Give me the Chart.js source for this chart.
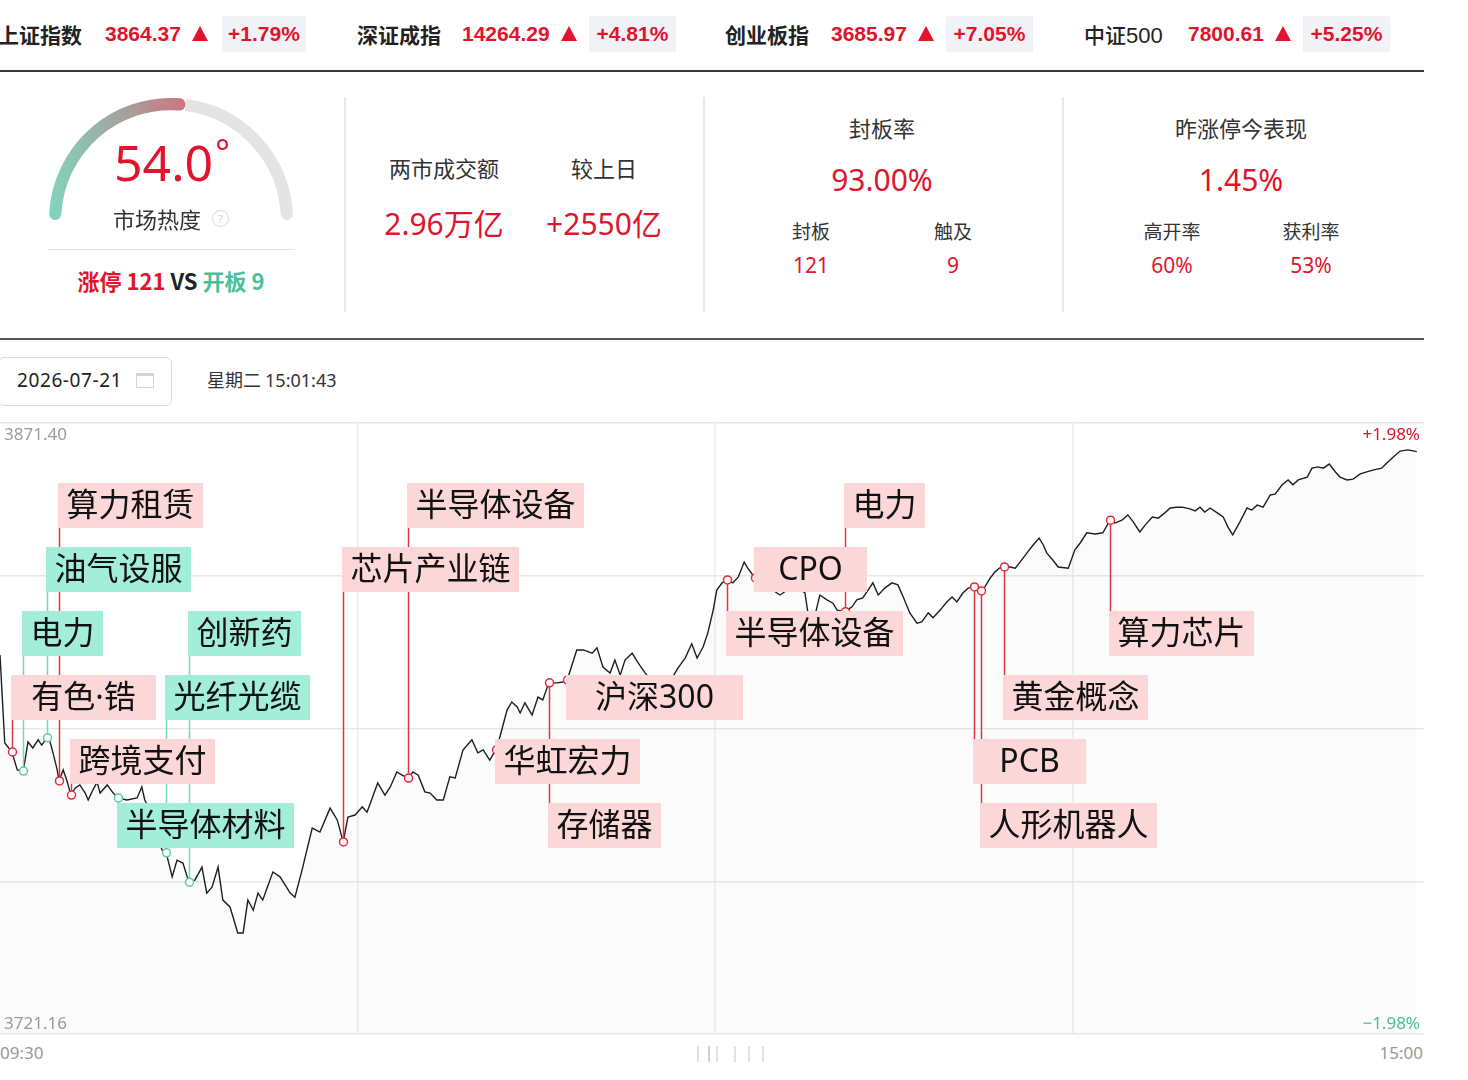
<!DOCTYPE html>
<html lang="zh-CN">
<head>
<meta charset="utf-8">
<title>市场热度 分时</title>
<script src="https://cdn.jsdelivr.net/npm/chart.js@4.4.1/dist/chart.umd.min.js"></script>
<style>
  html, body { margin: 0; padding: 0; background: #fff; }
  body { width: 1468px; height: 1080px; position: relative; overflow: hidden;
         font-family: "Noto Sans", "Noto Sans CJK SC", sans-serif; color: #222; }
  .abs { position: absolute; white-space: nowrap; }
  .idx { top: 21px; font: bold 21px/26px "Noto Sans CJK SC", sans-serif; color: #222; }
  .num { top: 21px; font: bold 21px/26px "Liberation Sans", Arial, sans-serif; color: #e0142d; }
  .tri { top: 26px; width: 0; height: 0; border-left: 8px solid transparent;
         border-right: 8px solid transparent; border-bottom: 15px solid #e0142d; }
  .badge { top: 16px; height: 36px; line-height: 36px; background: #f1f2f6; text-align: center;
           font: bold 21px/36px "Liberation Sans", Arial, sans-serif; color: #e0142d; }
  .hr { background: #3a3a3a; height: 2px; left: 0; width: 1424px; }
  .vsep { top: 97px; width: 1.5px; height: 215px; background: #e8e8e8; }
  .cell { text-align: center; transform: translateX(-50%); }
  .lab { font-size: 22px; color: #333; font-family: "Noto Sans CJK SC", sans-serif; }
  .lab-s { font-size: 19px; color: #333; font-family: "Noto Sans CJK SC", sans-serif; }
  .red { color: #e0142d; }
  .teal { color: #4cbf9a; }
  .grey { color: #999; }
  .handle { top: 1046px; width: 1.5px; height: 16px; background: #e2e2e2; }
</style>
</head>
<body>

<!-- index strip -->
<div class="abs idx" style="left:-2px">上证指数</div>
<div class="abs num" style="left:105px">3864.37</div>
<div class="abs tri" style="left:192px"></div>
<div class="abs badge" style="left:222px;width:84px">+1.79%</div>

<div class="abs idx" style="left:357px">深证成指</div>
<div class="abs num" style="left:462px">14264.29</div>
<div class="abs tri" style="left:561px"></div>
<div class="abs badge" style="left:589px;width:87px">+4.81%</div>

<div class="abs idx" style="left:725px">创业板指</div>
<div class="abs num" style="left:831px">3685.97</div>
<div class="abs tri" style="left:918px"></div>
<div class="abs badge" style="left:946px;width:87px">+7.05%</div>

<div class="abs idx" style="left:1084px;font-weight:500">中证<span style="font-family:'Liberation Sans',Arial,sans-serif;font-weight:normal;font-size:22px">500</span></div>
<div class="abs num" style="left:1188px">7800.61</div>
<div class="abs tri" style="left:1275px"></div>
<div class="abs badge" style="left:1303px;width:87px">+5.25%</div>

<div class="abs hr" style="top:70px"></div>

<!-- gauge -->
<canvas id="gauge" class="abs" width="244" height="122" style="left:49px;top:98px"></canvas>
<div class="abs red" style="left:114px;top:132px;font:400 50px/60px 'Noto Sans',sans-serif">54.0<span style="font-size:34px;position:relative;top:-16px;margin-left:2px">°</span></div>
<div class="abs" style="left:113px;top:204px;font:400 22px/28px 'Noto Sans CJK SC',sans-serif;color:#333">市场热度</div>
<div class="abs" style="left:212px;top:210px;width:15px;height:15px;border:1.5px solid #d8d8d8;border-radius:50%;font:11px/15px 'Noto Sans',sans-serif;color:#cfcfcf;text-align:center">?</div>
<div class="abs" style="left:48px;top:249px;width:247px;height:1px;background:#e4e4e4"></div>
<div class="abs cell" style="left:171px;top:265px;font:bold 22px/30px 'Noto Sans CJK SC',sans-serif">
  <span class="red">涨停 121</span> <span style="color:#222">VS</span> <span class="teal">开板 9</span>
</div>

<div class="abs vsep" style="left:344px"></div>
<div class="abs vsep" style="left:703px"></div>
<div class="abs vsep" style="left:1062px"></div>

<!-- turnover -->
<div class="abs cell lab" style="left:444px;top:151px">两市成交额</div>
<div class="abs cell lab" style="left:604px;top:151px">较上日</div>
<div class="abs cell red" style="left:444px;top:200px;font-size:30px">2.96万亿</div>
<div class="abs cell red" style="left:604px;top:200px;font-size:30px">+2550亿</div>

<!-- seal rate -->
<div class="abs cell lab" style="left:882px;top:111px">封板率</div>
<div class="abs cell red" style="left:882px;top:159px;font-size:30px">93.00%</div>
<div class="abs cell lab-s" style="left:811px;top:217px">封板</div>
<div class="abs cell lab-s" style="left:953px;top:217px">触及</div>
<div class="abs cell red" style="left:811px;top:251px;font-size:21px">121</div>
<div class="abs cell red" style="left:953px;top:251px;font-size:21px">9</div>

<!-- yesterday limit-up -->
<div class="abs cell lab" style="left:1241px;top:111px">昨涨停今表现</div>
<div class="abs cell red" style="left:1241px;top:159px;font-size:30px">1.45%</div>
<div class="abs cell lab-s" style="left:1172px;top:217px">高开率</div>
<div class="abs cell lab-s" style="left:1311px;top:217px">获利率</div>
<div class="abs cell red" style="left:1172px;top:251px;font-size:21px">60%</div>
<div class="abs cell red" style="left:1311px;top:251px;font-size:21px">53%</div>

<div class="abs" style="left:0;top:338px;width:1424px;height:1.5px;background:#555"></div>

<!-- date row -->
<div class="abs" style="left:-2px;top:357px;width:174px;height:49px;box-sizing:border-box;border:1px solid #dcdcdc;border-radius:6px"></div>
<div class="abs" style="left:17px;top:367px;font:19px/26px 'Noto Sans',sans-serif;color:#222;letter-spacing:0.6px">2026-07-21</div>
<div class="abs" style="left:136px;top:373px;width:18px;height:15px;box-sizing:border-box;border:1.5px solid #d4d4d4;border-top-width:3px"></div>
<div class="abs" style="left:207px;top:366px;font:18px/26px 'Noto Sans CJK SC',sans-serif;color:#333">星期二 <span style="font-family:'Noto Sans',sans-serif">15:01:43</span></div>

<!-- intraday chart -->
<canvas id="line" class="abs" width="1424" height="615" style="left:0;top:421px"></canvas>
<div class="abs grey" style="left:0;top:1041px;font:17px/24px 'Noto Sans',sans-serif">09:30</div>
<div class="abs grey" style="right:45px;top:1041px;font:17px/24px 'Noto Sans',sans-serif">15:00</div>
<div class="abs handle" style="left:697px"></div>
<div class="abs handle" style="left:708px;background:#cfcfcf"></div>
<div class="abs handle" style="left:716px"></div>
<div class="abs handle" style="left:734px"></div>
<div class="abs handle" style="left:748px"></div>
<div class="abs handle" style="left:762px"></div>

<script>
// market heat
const heatValue = 54.0;
const heatMax = 100;

// y range: low / prev close / high of the day
const yTicks = [3721.16, 3758.72, 3796.28, 3833.84, 3871.40];
const pctLabels = ['+1.98%', '−1.98%'];
const gridMinutes = [60, 120, 180];
const dayEnd = 239;

// minutes since 09:30 (trading minutes) and index level
const minutes = [
  0, 0.8, 2.0, 2.9, 3.9, 4.7, 5.5, 6.4, 7.0, 7.9, 8.4, 8.9, 9.6, 9.9, 10.6, 11.2, 11.9, 12.6, 13.4, 14.3,
  14.8, 15.6, 16.3, 16.8, 18.0, 19.0, 19.8, 21.3, 23.0, 23.8, 24.3, 25.5, 26.4, 27.2, 27.9, 28.9, 29.7, 30.7, 31.7, 32.7,
  33.9, 34.7, 35.6, 36.6, 37.4, 38.6, 39.4, 39.9, 40.8, 41.6, 42.5, 43.3, 44.1, 45.8, 47.0, 48.7, 49.5, 50.7, 52.4, 53.7,
  55.4, 56.6, 57.6, 58.4, 59.6, 60.8, 61.6, 63.4, 64.6, 65.5, 66.6, 67.5, 68.5, 69.3, 70.2, 71.3, 72.2, 73.3, 74.4, 75.5,
  76.4, 77.7, 79.2, 80.2, 81.1, 82.2, 83.2, 83.9, 85.1, 85.9, 86.8, 87.3, 88.1, 89.3, 90.3, 91.1, 92.1, 93.5, 94.5, 95.2,
  96.8, 97.9, 99.4, 100.2, 101.2, 102.4, 103.2, 104.1, 104.9, 106.1, 107.1, 108.3, 109.9, 111.6, 113.8, 115.0, 116.1, 117.0, 118.0, 118.8,
  119.7, 120.3, 121.2, 122.0, 123.0, 123.9, 124.9, 125.5, 126.7, 128.4, 130.9, 133.4, 135.1, 135.6, 136.8, 137.6, 138.8, 139.8, 140.5, 141.8,
  143.0, 143.8, 144.8, 145.7, 146.5, 147.4, 148.5, 149.7, 150.7, 151.6, 152.7, 153.9, 154.7, 155.8, 156.6, 157.8, 158.9, 159.8, 160.6, 161.6,
  162.5, 163.5, 164.1, 164.7, 165.3, 166.2, 167.0, 167.8, 168.5, 169.5, 170.4, 171.2, 172.5, 173.4, 174.4, 175.1, 175.7, 176.7, 177.6, 179.3,
  180.4, 181.3, 182.4, 183.8, 185.1, 186.3, 187.1, 188.3, 189.3, 190.2, 191.3, 192.2, 193.4, 194.4, 195.5, 196.4, 197.5, 198.4, 199.7, 200.6,
  201.4, 202.2, 203.1, 204.3, 205.3, 206.1, 206.9, 208.1, 209.3, 210.1, 211.0, 212.0, 213.2, 214.0, 215.2, 216.2, 217.0, 217.9, 219.4, 220.2,
  221.2, 222.1, 223.1, 224.1, 224.9, 226.1, 227.1, 228.3, 229.4, 230.4, 231.9, 232.8, 233.8, 235.0, 236.3, 237.8
];
const prices = [
  3814.35, 3792.71, 3790.50, 3786.10, 3785.80, 3793.00, 3791.50, 3793.50, 3792.20, 3794.00, 3793.00, 3790.30, 3786.10, 3783.40, 3786.10, 3783.60, 3779.90, 3781.60, 3782.40, 3780.40,
  3778.70, 3781.20, 3783.10, 3780.40, 3782.40, 3780.40, 3779.20, 3778.70, 3779.20, 3781.90, 3778.70, 3775.00, 3770.10, 3766.40, 3765.70, 3759.80, 3763.90, 3763.20, 3758.50, 3759.00,
  3762.20, 3755.80, 3757.30, 3762.20, 3754.10, 3752.40, 3748.50, 3746.00, 3746.00, 3754.10, 3751.60, 3755.80, 3754.10, 3761.00, 3759.80, 3755.80, 3754.80, 3761.50, 3771.80, 3770.80,
  3776.70, 3773.80, 3768.40, 3774.50, 3775.00, 3777.00, 3775.70, 3782.90, 3779.90, 3781.90, 3785.60, 3784.80, 3784.10, 3785.60, 3784.80, 3780.70, 3780.40, 3778.70, 3778.70, 3784.40,
  3784.10, 3791.00, 3793.50, 3790.30, 3791.00, 3788.50, 3791.00, 3794.20, 3800.80, 3802.80, 3801.60, 3800.10, 3802.60, 3799.60, 3804.00, 3803.30, 3807.50, 3807.50, 3807.70, 3808.20,
  3815.60, 3815.60, 3814.80, 3816.10, 3811.40, 3809.90, 3813.10, 3809.40, 3813.10, 3814.80, 3812.40, 3809.90, 3807.00, 3805.80, 3811.20, 3813.60, 3817.10, 3813.60, 3816.30, 3819.80,
  3825.40, 3830.30, 3832.10, 3832.80, 3832.10, 3833.50, 3837.20, 3835.70, 3833.30, 3831.60, 3829.10, 3831.60, 3829.60, 3824.70, 3824.20, 3829.10, 3827.90, 3827.10, 3825.40, 3825.00,
  3826.20, 3827.90, 3828.40, 3830.30, 3832.10, 3829.10, 3830.80, 3832.10, 3831.60, 3828.60, 3824.70, 3822.20, 3822.50, 3824.70, 3823.50, 3825.40, 3827.40, 3828.60, 3827.40, 3829.60,
  3830.80, 3831.10, 3830.30, 3830.10, 3831.10, 3833.30, 3834.80, 3835.80, 3836.00, 3836.00, 3835.70, 3837.20, 3839.70, 3841.40, 3843.10, 3841.40, 3839.40, 3837.70, 3836.00, 3835.70,
  3840.20, 3841.90, 3844.40, 3844.10, 3844.40, 3847.50, 3846.80, 3847.50, 3848.80, 3847.10, 3844.60, 3846.30, 3848.30, 3848.00, 3849.30, 3850.50, 3850.70, 3850.70, 3850.30, 3849.80,
  3850.70, 3849.50, 3850.50, 3849.30, 3848.30, 3845.80, 3843.90, 3847.10, 3850.50, 3850.00, 3851.20, 3850.70, 3853.70, 3853.90, 3856.20, 3857.40, 3856.20, 3857.40, 3858.10, 3860.30,
  3860.60, 3860.30, 3861.30, 3859.40, 3858.10, 3857.40, 3857.60, 3858.90, 3859.40, 3859.80, 3860.30, 3861.60, 3863.00, 3864.50, 3864.80, 3864.37
];

// sector tags on the line: name, minute of the tag, red (up) or green (down)
const noteNames = ['有色·锆', '电力', '油气设服', '算力租赁', '跨境支付', '半导体材料', '光纤光缆', '创新药',
  '芯片产业链', '半导体设备', '华虹宏力', '存储器', '沪深300', '半导体设备', 'CPO', '电力',
  'PCB', '人形机器人', '黄金概念', '算力芯片'];
const noteTimes = [2.0, 3.9, 7.9, 9.9, 11.9, 19.8, 27.9, 31.7, 57.6, 68.5, 83.2, 92.1, 95.2, 122.0, 126.7, 141.8,
  163.5, 164.7, 168.5, 186.3];
const noteKinds = ['up', 'down', 'down', 'up', 'up', 'down', 'down', 'down', 'up', 'up', 'up', 'up', 'up', 'up', 'up', 'up',
  'up', 'up', 'up', 'up'];

// layout of the tag boxes (row of each tag)
const noteRows = [3, 2, 1, 0, 4, 5, 3, 2, 1, 0, 4, 5, 3, 2, 1, 0, 4, 5, 3, 2];
const ROW0 = 60, ROW_STEP = 64, BOX_H = 45;

const RED = '#e0142d', TEAL = '#47c197';

function gaugeFill(c) {
  if (c.dataIndex !== 0) return '#e4e4e4';
  const g = c.chart.ctx.createLinearGradient(0, 0, 146, 0);
  g.addColorStop(0, '#80d5be');
  g.addColorStop(0.5, '#a5a39c');
  g.addColorStop(1, '#d06e7a');
  return g;
}

new Chart(document.getElementById('gauge'), {
  type: 'doughnut',
  data: {
    datasets: [{
      data: [heatValue, heatMax - heatValue],
      backgroundColor: gaugeFill,
      borderWidth: 0,
      borderRadius: [6, {outerStart: 0, innerStart: 0, outerEnd: 6, innerEnd: 6}]
    }]
  },
  options: {
    responsive: false,
    animation: false,
    events: [],
    rotation: -90,
    circumference: 180,
    cutout: '90%',
    layout: {padding: 0},
    plugins: {legend: {display: false}, tooltip: {enabled: false}}
  }
});

function nearestIndex(t) {
  let k = 0;
  minutes.forEach((m, j) => {
    if (Math.abs(m - t) < Math.abs(minutes[k] - t)) k = j;
  });
  return k;
}

const notePlugin = {
  id: 'notes',
  afterDatasetsDraw(chart) {
    const {ctx, chartArea: a, scales: {x, y}} = chart;
    const items = noteNames.map((name, i) => {
      const k = nearestIndex(noteTimes[i]);
      return {
        name,
        up: noteKinds[i] === 'up',
        px: Math.round(x.getPixelForValue(minutes[k])) + 0.5,
        py: y.getPixelForValue(prices[k]),
        top: a.top + ROW0 + noteRows[i] * ROW_STEP,
        w: name.length * 32 + 17
      };
    });
    ctx.save();
    // stems
    items.forEach(it => {
      ctx.strokeStyle = it.up ? '#e23342' : '#79d6bc';
      ctx.lineWidth = 1.5;
      ctx.beginPath();
      if (it.py < it.top) {
        ctx.moveTo(it.px, it.py);
        ctx.lineTo(it.px, it.top);
      } else if (it.py > it.top + BOX_H) {
        ctx.moveTo(it.px, it.top + BOX_H);
        ctx.lineTo(it.px, it.py);
      }
      ctx.stroke();
    });
    // markers
    items.forEach(it => {
      ctx.beginPath();
      ctx.arc(it.px, it.py, 4, 0, Math.PI * 2);
      ctx.fillStyle = '#fff';
      ctx.fill();
      ctx.lineWidth = 1.5;
      ctx.strokeStyle = it.up ? '#e4293a' : '#5cc8a8';
      ctx.stroke();
    });
    // boxes
    ctx.font = '32px "Noto Sans", "Noto Sans CJK SC", sans-serif';
    ctx.textAlign = 'center';
    ctx.textBaseline = 'middle';
    items.forEach(it => {
      const left = it.px - 1.5;
      ctx.fillStyle = it.up ? '#fbd7d8' : '#a3eed9';
      ctx.fillRect(left, it.top, it.w, BOX_H);
      ctx.fillStyle = '#111';
      ctx.fillText(it.name, left + it.w / 2, it.top + BOX_H / 2 + 1);
    });
    ctx.restore();
  },
  afterDraw(chart) {
    const {ctx, chartArea: a} = chart;
    ctx.save();
    ctx.font = '17px "Noto Sans", sans-serif';
    ctx.textBaseline = 'middle';
    ctx.textAlign = 'left';
    ctx.fillStyle = '#9a9a9a';
    ctx.fillText(yTicks[4].toFixed(2), 4, a.top + 12);
    ctx.fillText(yTicks[0].toFixed(2), 4, a.bottom - 10);
    ctx.textAlign = 'right';
    ctx.fillStyle = RED;
    ctx.fillText(pctLabels[0], a.right - 4, a.top + 12);
    ctx.fillStyle = TEAL;
    ctx.fillText(pctLabels[1], a.right - 4, a.bottom - 10);
    ctx.restore();
  }
};

new Chart(document.getElementById('line'), {
  type: 'line',
  data: {
    datasets: [{
      data: minutes.map((m, i) => ({x: m, y: prices[i]})),
      borderColor: '#1e1e1e',
      borderWidth: 1.4,
      pointRadius: 0,
      tension: 0,
      fill: 'start',
      backgroundColor: 'rgba(0,0,0,0.014)'
    }]
  },
  options: {
    responsive: false,
    animation: false,
    events: [],
    layout: {padding: {top: 2, bottom: 2, left: 0, right: 0}},
    plugins: {legend: {display: false}, tooltip: {enabled: false}},
    scales: {
      x: {
        type: 'linear', min: 0, max: dayEnd,
        afterBuildTicks: s => { s.ticks = gridMinutes.map(v => ({value: v})); },
        ticks: {display: false},
        grid: {color: '#ececec', lineWidth: 1.5, drawTicks: false},
        border: {display: false}
      },
      y: {
        min: yTicks[0], max: yTicks[4],
        afterBuildTicks: s => { s.ticks = yTicks.map(v => ({value: v})); },
        ticks: {display: false},
        grid: {color: '#e8e8e8', lineWidth: 1.5, drawTicks: false},
        border: {display: false}
      }
    }
  },
  plugins: [notePlugin]
});
</script>
</body>
</html>
